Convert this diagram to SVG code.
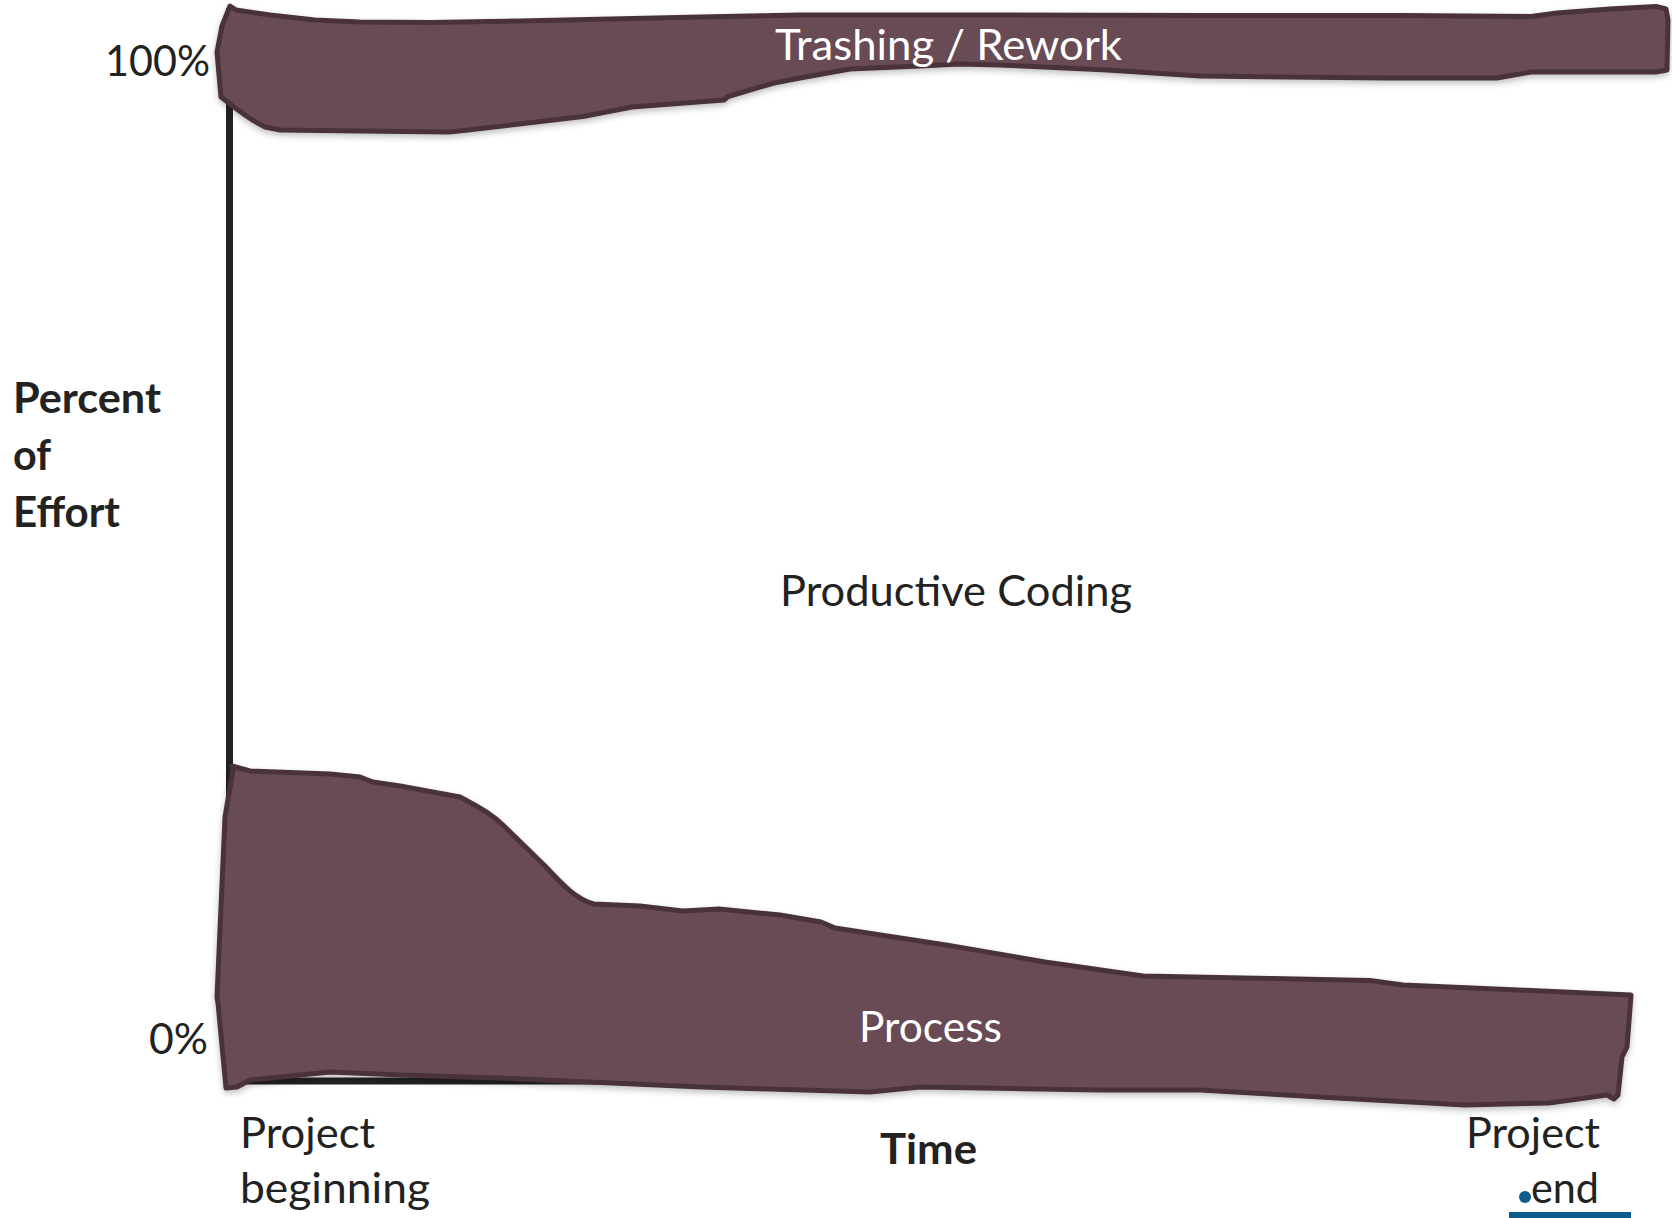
<svg xmlns="http://www.w3.org/2000/svg" width="1672" height="1218" viewBox="0 0 1672 1218">
<defs>
<style>
.band{fill:#684c55;stroke:#4a333b;stroke-width:5;stroke-linejoin:round}
.axis{stroke:#222;stroke-width:7;fill:none}
.t{font-family:Lato,"Open Sans","Liberation Sans",sans-serif;font-size:42px;fill:#222}
.w{fill:#ffffff}
.b{font-weight:bold}
</style>
<filter id="sh" x="-5%" y="-5%" width="110%" height="120%">
<feDropShadow dx="0" dy="3" stdDeviation="3" flood-color="#000" flood-opacity="0.25"/>
</filter>
</defs>
<rect width="1672" height="1218" fill="#ffffff"/>
<g id="axes">
<path class="axis" d="M229.5,8 L229.5,1081 L1610,1081"/>
</g>
<g id="trashing">
<path class="band" filter="url(#sh)" d="M230,6 L236,10 L270,15 L315,20 L360,22 L430,22.5 L520,21 L700,17 L800,15 L1000,15 L1200,15.5 L1400,15.5 L1531,16.5 L1557,13 L1610,9 L1656,6.5 L1666,9 L1668,20 L1667,70 L1656,72 L1531,72 L1497,78 L1386,78 L1200,76 L1107,70 L1000,65 L960,64 L920,66 L850,69 L800,78 L774,83 L728,96.5 L724,100 L632,107 L583,116.5 L468,130 L449,132 L361,131 L280,130 L265,127 C255,122 246,116 238,110 L221,97 L217,52 L222,26 Z"/>
<text class="t w" x="775" y="60" textLength="347" lengthAdjust="spacingAndGlyphs">Trashing / Rework</text>
</g>
<g id="process">
<path class="band" filter="url(#sh)" d="M232,766 L250,771 L330,774 L360,777 L373,782 L400,786 L460,797 C480,808 492,814 505,827 L545,866 C560,882 575,899 594,904 L640,906 L683,911 L719,909 L780,915 L821,922 L835,928 L946,945 L1045,962 L1143,976 L1370,980.5 L1403,985 L1631,995 L1627,1047 L1622,1057 L1618,1095 L1614,1099 L1607,1095 L1549,1103 L1465,1105 L1337,1098 L1200,1090 L1100,1090 L920,1087 L870,1092 L701,1087 L500,1078 L400,1075 L330,1072 L250,1080 L237,1087 L226,1088 L218,1003 L217,997 L225,817 L233,770 Z"/>
<text class="t w" x="859" y="1042" textLength="143" lengthAdjust="spacingAndGlyphs">Process</text>
</g>
<g id="productive">
<text class="t" x="780" y="606" textLength="352" lengthAdjust="spacingAndGlyphs">Productive Coding</text>
</g>
<g id="labels">
<text class="t" x="105" y="76" textLength="105" lengthAdjust="spacingAndGlyphs">100%</text>
<text class="t" x="149" y="1054" textLength="59" lengthAdjust="spacingAndGlyphs">0%</text>
<text class="t b" x="13" y="413" textLength="148" lengthAdjust="spacingAndGlyphs">Percent</text>
<text class="t b" x="13" y="470" textLength="38" lengthAdjust="spacingAndGlyphs">of</text>
<text class="t b" x="13" y="527" textLength="107" lengthAdjust="spacingAndGlyphs">Effort</text>
<text class="t b" x="880" y="1164" textLength="97" lengthAdjust="spacingAndGlyphs">Time</text>
<text class="t" x="240" y="1148" textLength="135" lengthAdjust="spacingAndGlyphs">Project</text>
<text class="t" x="240" y="1203" textLength="190" lengthAdjust="spacingAndGlyphs">beginning</text>
<text class="t" x="1466" y="1148" textLength="134" lengthAdjust="spacingAndGlyphs">Project</text>
<text class="t" x="1531" y="1203" textLength="68" lengthAdjust="spacingAndGlyphs">end</text>
</g>
<g id="corner-mark">
<rect x="1509" y="1212" width="122" height="6" fill="#0f5b8a"/>
<circle cx="1525" cy="1197" r="6" fill="#0f5b8a"/>
</g>
</svg>
